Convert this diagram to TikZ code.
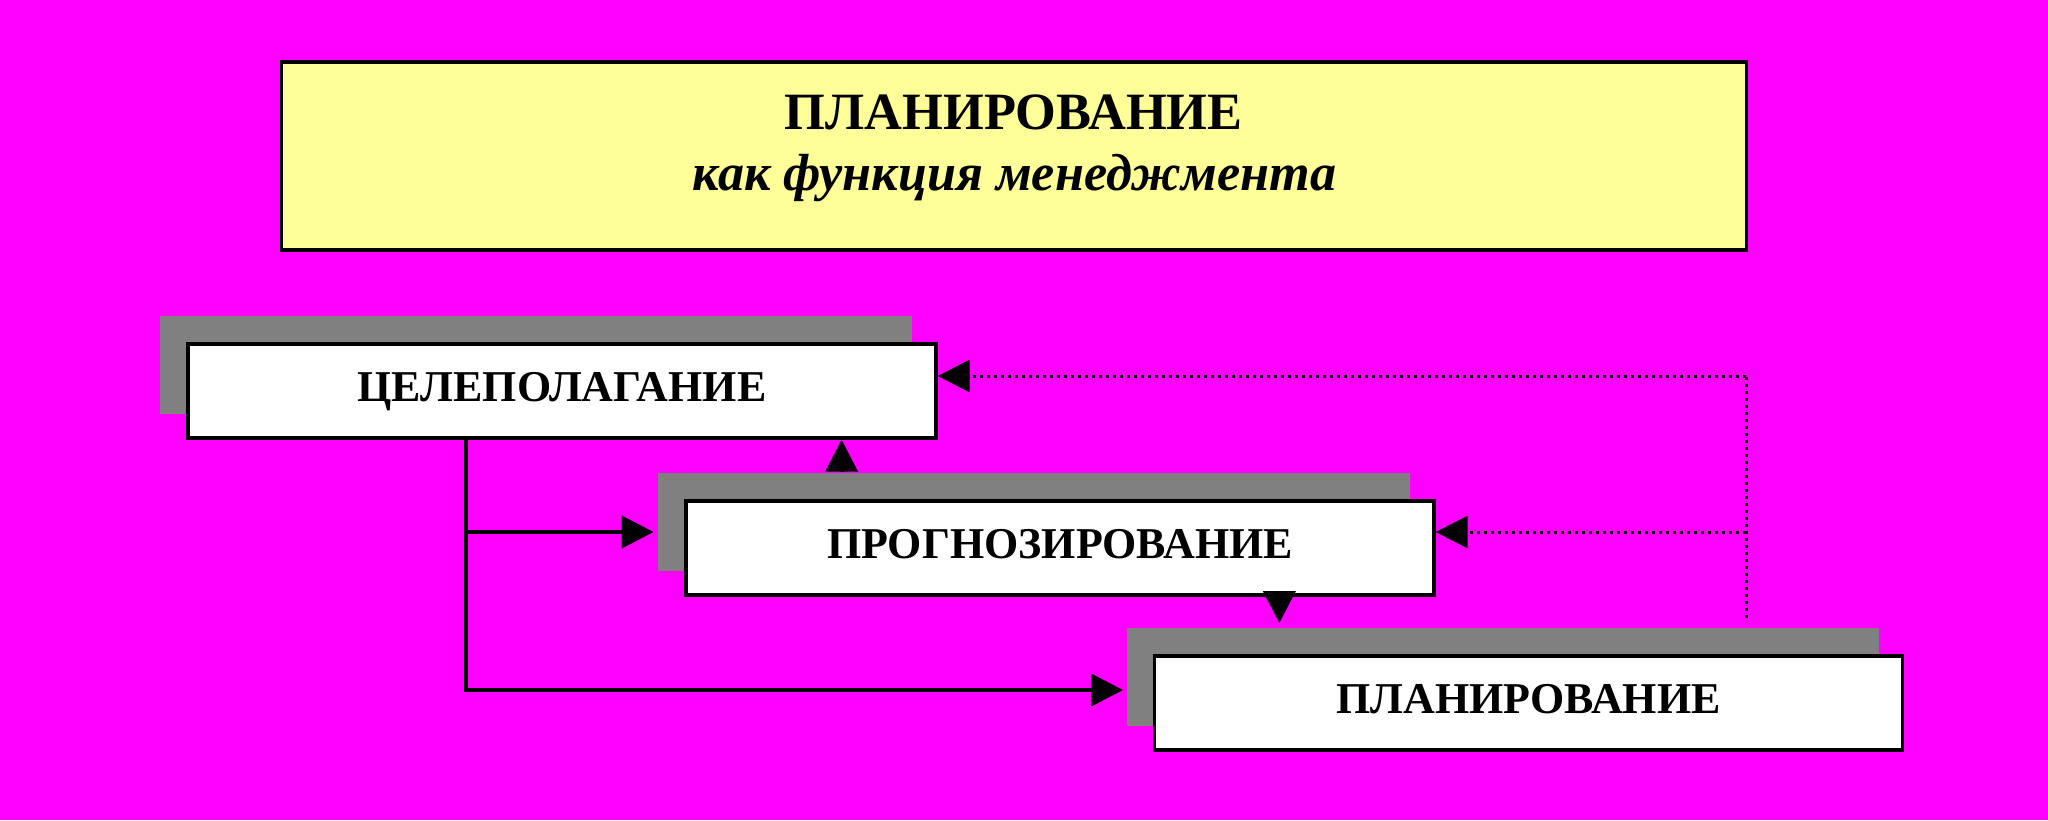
\documentclass[tikz,border=0pt]{standalone}
\usepackage{fontspec}
\setmainfont{Liberation Serif}
\usetikzlibrary{arrows.meta,calc}
\definecolor{bgmag}{HTML}{FF00FF}
\definecolor{titleyellow}{HTML}{FFFF99}
\definecolor{shadegray}{HTML}{808080}
\begin{document}
\begin{tikzpicture}[x=0.5pt,y=-0.5pt,
  titlebox/.style={draw=black,line width=1.7pt,fill=titleyellow,minimum width=732.5pt,minimum height=94pt,inner sep=0pt},
  stagebox/.style={draw=black,line width=1.7pt,fill=white,minimum width=374pt,minimum height=47pt,inner sep=0pt,
    text height=10.5pt,text depth=0pt,font=\fontsize{22}{26}\selectfont\bfseries},
  shadebox/.style={fill=shadegray,minimum width=376pt,minimum height=49pt,inner sep=0pt},
  conn/.style={line width=2pt,-{Triangle[length=16pt,width=16pt]}},
  tiponly/.style={line width=2pt,-{Triangle[length=16pt,width=16pt]}},
  dotline/.style={line width=1.5pt,dash pattern=on 1.5pt off 2pt,-{Triangle[length=16pt,width=16pt]}},
  dotplain/.style={line width=1.5pt,dash pattern=on 1.5pt off 2pt}
]
\fill[bgmag] (0,0) rectangle (2048,820);
\useasboundingbox (0,0) rectangle (2048,820);

% title
\node[titlebox] (title) at (1013.7,155.8) {};
\node[anchor=base,inner sep=0pt,font=\fontsize{26.2}{30}\selectfont\bfseries] (title1) at (1013.7,129) {ПЛАНИРОВАНИЕ};
\node[anchor=base,inner sep=0pt,font=\fontsize{26.1}{30}\selectfont\bfseries\itshape] (title2) at (1014.5,190) {как функция менеджмента};

% shadows
\node[shadebox] (gsh) at (536,364.5) {};
\node[shadebox] (fsh) at (1034,521.5) {};
\node[shadebox] (psh) at (1502.5,676.5) {};

% stage boxes
\node[stagebox] (goal) at (562,391) {ЦЕЛЕПОЛАГАНИЕ};
\node[stagebox] (forecast) at (1060,548) {ПРОГНОЗИРОВАНИЕ};
\node[stagebox] (plan) at (1528.5,703) {ПЛАНИРОВАНИЕ};

% solid connectors
\path ([xshift=140pt]goal.south west) coordinate (t0);
\path ([yshift=-5.25pt]fsh.west) coordinate (tw);
\path ([yshift=-6.75pt]psh.west) coordinate (tp);
\draw[conn,shorten >=1.5pt] (t0) |- (tp);
\draw[conn,shorten >=2pt] (t0 |- tw) -- (tw);

% up arrow forecast -> goal
\path ([xshift=92pt]fsh.north west) coordinate (u0);
\draw[tiponly] (u0) -- (u0 |- goal.south);

% down arrow forecast -> plan
\path ([xshift=297.5pt]forecast.south west) coordinate (v0);
\draw[tiponly,shorten >=2pt] (v0) -- (v0 |- psh.north);

% dotted feedback
\path ([xshift=310pt,yshift=4.5pt]psh.north west) coordinate (d0);
\path ([yshift=7.5pt]goal.east) coordinate (ge);
\path ([yshift=8pt]forecast.east) coordinate (fe);
\draw[dotplain] (d0) -- (d0 |- ge);
\draw[dotline] (d0 |- ge) -- (ge);
\draw[dotline] (d0 |- fe) -- (fe);
\end{tikzpicture}
\end{document}
